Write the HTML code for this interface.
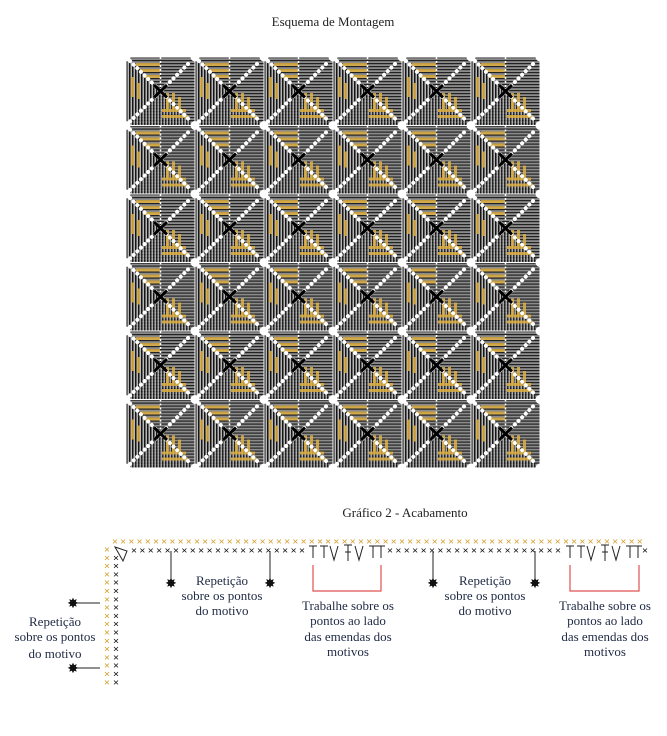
<!DOCTYPE html>
<html><head><meta charset="utf-8"><style>
html,body{margin:0;padding:0;background:#fff;}
svg{display:block}
text{font-family:"Liberation Serif",serif;}
</style></head><body>
<svg id="s" width="667" height="736" viewBox="0 0 667 736" xmlns="http://www.w3.org/2000/svg">
<defs>
<pattern id="hs" width="3" height="3" patternUnits="userSpaceOnUse"><rect width="3" height="3" fill="#8c8c8c"/><rect width="3" height="1.2" fill="#222"/></pattern>
<pattern id="vs" width="3" height="3" patternUnits="userSpaceOnUse"><rect width="3" height="3" fill="#b8b8b8"/><rect width="1.5" height="3" fill="#151515"/></pattern>
<pattern id="tile" x="126" y="57" width="69" height="68.5" patternUnits="userSpaceOnUse">
<rect width="69" height="68.5" fill="url(#hs)"/>
<polygon points="0,0 34.5,34 0,68.5" fill="url(#vs)"/>
<polygon points="0,68.5 34.5,34 69,68.5" fill="url(#vs)" opacity="0.8"/>
<g fill="#e0b040" opacity="0.85">
<rect x="10" y="6" width="24" height="3"/><rect x="14" y="12" width="20" height="3"/><rect x="18" y="18" width="16" height="3"/>
<rect x="5" y="20" width="3" height="20"/><rect x="11" y="26" width="3" height="16"/>
<rect x="40" y="36" width="3" height="18"/><rect x="46" y="36" width="3" height="18"/><rect x="52" y="40" width="3" height="14"/>
<rect x="36" y="52" width="24" height="3"/><rect x="36" y="58" width="26" height="3"/>
</g>
<line x1="34.5" y1="0" x2="34.5" y2="30" stroke="#fff" stroke-width="1.5" stroke-dasharray="2 2"/>
<g fill="#fff">
<circle cx="0" cy="0" r="4.5"/><circle cx="69" cy="0" r="4.5"/><circle cx="0" cy="68.5" r="4.5"/><circle cx="69" cy="68.5" r="4.5"/>
</g>
<line x1="4" y1="4" x2="65" y2="64.5" stroke="#fff" stroke-width="4" stroke-dasharray="0.1 5" stroke-linecap="round"/>
<line x1="4" y1="64.5" x2="65" y2="4" stroke="#fff" stroke-width="4" stroke-dasharray="0.1 5" stroke-linecap="round"/>
<path d="M28,28 L41,40.5 M41,28 L28,40.5" stroke="#000" stroke-width="3"/>
<rect x="0" y="0" width="69" height="68.5" fill="none" stroke="#fff" stroke-width="1"/>
</pattern>
</defs>
<text x="333" y="26" font-size="13" text-anchor="middle" fill="#222">Esquema de Montagem</text>
<rect x="126" y="57" width="414" height="411" fill="url(#tile)"/>
<text x="405" y="517" font-size="13" text-anchor="middle" fill="#222">Gráfico 2 - Acabamento</text>
<g id="st" font-family="Liberation Sans,sans-serif" font-size="11" font-weight="bold" text-anchor="middle"></g>
<g stroke="#222" stroke-width="1" fill="none">
<path d="M313,546 v12 M309,546 h8 M324,546 v12 M320,546 h8 M330,546 l4,14 l4,-14 M348,545 v16 M344,545 h8 M345,552 h6 M355,546 l4,14 l4,-14 M373,546 v12 M369,546 h8 M381,546 v12 M377,546 h8"/>
<path d="M570,546 v12 M566,546 h8 M581,546 v12 M577,546 h8 M587,546 l4,14 l4,-14 M605,545 v16 M601,545 h8 M602,552 h6 M612,546 l4,14 l4,-14 M630,546 v12 M626,546 h8 M638,546 v12 M634,546 h8"/>
<path d="M171,551 v30 M270,551 v30 M433,551 v30 M535,551 v30 M75,603 h25 M75,668 h25"/>
<path d="M115,547 l12,4 l-4,10 z" />
</g>
<path d="M313,565 v26 h68 v-26 M570,565 v26 h69 v-26" stroke="#e05050" stroke-width="1.2" fill="none"/>
<g fill="#111" font-size="14" font-family="Liberation Sans,sans-serif" text-anchor="middle">
<text x="171" y="588">✸</text><text x="270" y="588">✸</text><text x="433" y="588">✸</text><text x="535" y="588">✸</text><text x="73" y="608">✸</text><text x="73" y="673">✸</text>
</g>
<g font-size="13" fill="#1f2a44" text-anchor="middle">
<text x="222" y="585">Repetição</text><text x="222" y="600">sobre os pontos</text><text x="222" y="615">do motivo</text>
<text x="485" y="585">Repetição</text><text x="485" y="600">sobre os pontos</text><text x="485" y="615">do motivo</text>
<text x="55" y="626">Repetição</text><text x="55" y="641">sobre os pontos</text><text x="55" y="658">do motivo</text>
<text x="348" y="610">Trabalhe sobre os</text><text x="348" y="625">pontos ao lado</text><text x="348" y="641">das emendas dos</text><text x="348" y="656">motivos</text>
<text x="605" y="610">Trabalhe sobre os</text><text x="605" y="625">pontos ao lado</text><text x="605" y="641">das emendas dos</text><text x="605" y="656">motivos</text>
</g>
</svg>
<script>
var g=document.getElementById('st'),h='';
function x(px,py,c){h+='<text x="'+px+'" y="'+py+'" fill="'+c+'">×</text>';}
for(var px=115;px<=640;px+=8.2)x(px.toFixed(1),545,'#d4a030');
for(var px=134;px<=305;px+=8.4)x(px.toFixed(1),554,'#111');
for(var px=390;px<=565;px+=8.4)x(px.toFixed(1),554,'#111');
x(645,554,'#111');
for(var py=553;py<=694;py+=8.3){x(107,py.toFixed(1),'#d4a030');if(py>560)x(116,py.toFixed(1),'#111');}
g.innerHTML=h;
</script>
</body></html>
